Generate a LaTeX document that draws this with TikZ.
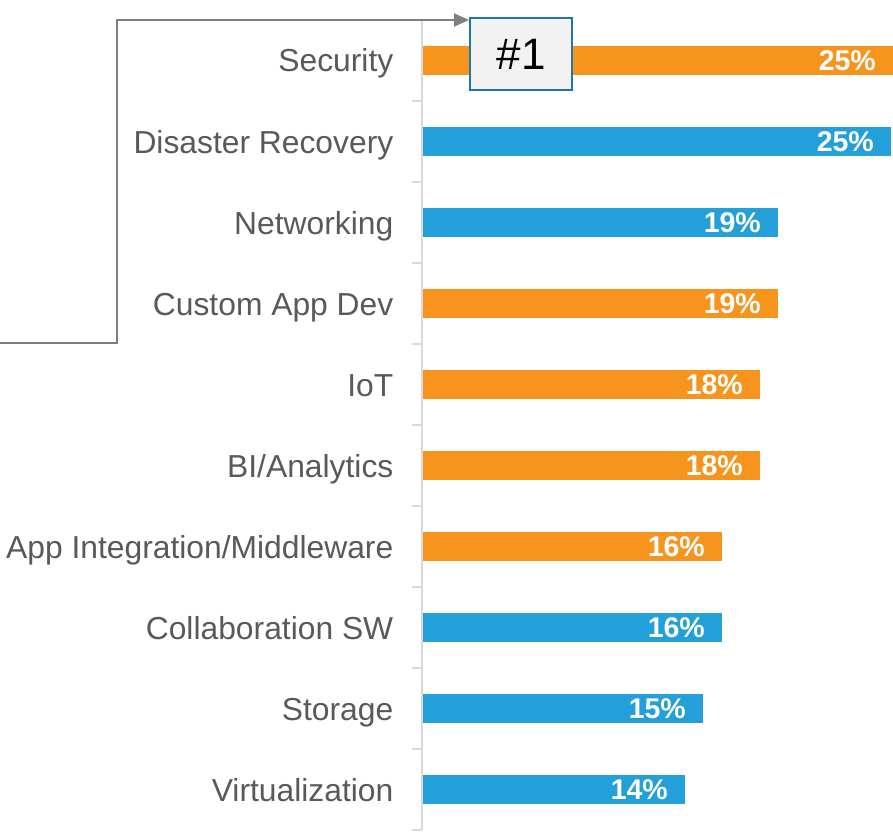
\documentclass[tikz,border=0pt]{standalone}
\usepackage{fontspec}
\setmainfont{Liberation Sans}
\usetikzlibrary{arrows.meta}
\definecolor{barorange}{HTML}{F7941D}
\definecolor{barblue}{HTML}{239FD9}
\definecolor{labelgray}{HTML}{595959}
\definecolor{axisgray}{HTML}{D9D9D9}
\definecolor{connectgray}{HTML}{7F7F7F}
\definecolor{boxblue}{HTML}{1F77A8}
\definecolor{boxfill}{HTML}{F2F2F2}
\tikzset{
  catlabel/.style={anchor=base east, inner sep=0pt, text=labelgray, font=\fontsize{31.8}{34}\selectfont},
  pctlabel/.style={anchor=base east, inner sep=0pt, text=white, font=\fontsize{28.5}{30}\selectfont\bfseries},
  axisline/.style={draw=axisgray, line width=1.5pt},
  connector/.style={draw=connectgray, line width=2.2pt, -{Triangle[length=15pt,width=13pt]}},
  rankbox/.style={draw=boxblue, line width=2pt, fill=boxfill, minimum width=102pt, minimum height=72pt, inner sep=0pt, font=\fontsize{44}{46}\selectfont, text=black}
}
\begin{document}
\begin{tikzpicture}[x=1pt,y=-1pt]
\useasboundingbox (0,0) rectangle (893,832);
% axis
\draw[axisline] (422,20) -- (422,830);
\foreach \k in {0,...,10}{
  \draw[axisline] (412,20+81*\k) -- (422,20+81*\k);
}
% bars
\foreach \k/\name/\txt/\xend/\col/\pct in {
  0/sec/Security/893/barorange/25\%,
  1/dr/Disaster Recovery/891/barblue/25\%,
  2/net/Networking/778/barblue/19\%,
  3/cad/Custom App Dev/778/barorange/19\%,
  4/iot/IoT/760/barorange/18\%,
  5/bi/{BI/Analytics}/760/barorange/18\%,
  6/aim/{App Integration/Middleware}/722/barorange/16\%,
  7/col/Collaboration SW/722/barblue/16\%,
  8/sto/Storage/703/barblue/15\%,
  9/vir/Virtualization/685/barblue/14\%}{
  \fill[\col] (423,60.5+81*\k-14.5) rectangle (\xend,60.5+81*\k+14.5);
  \node[catlabel] (lab-\name) at (393.5,60.5+81*\k+11.5) {\txt};
  \node[pctlabel] (pct-\name) at (\xend-17,60.5+81*\k+10.2) {\pct};
}
% rank box and connector
\node[rankbox] (rank) at (521,54) {\#1};
\coordinate (start) at (0,343);
\coordinate (bend1) at (117,343);
\coordinate (bend2) at (117,20);
\draw[connector] (start) -- (bend1) -- (bend2) -- (bend2 -| rank.west);
\end{tikzpicture}
\end{document}
